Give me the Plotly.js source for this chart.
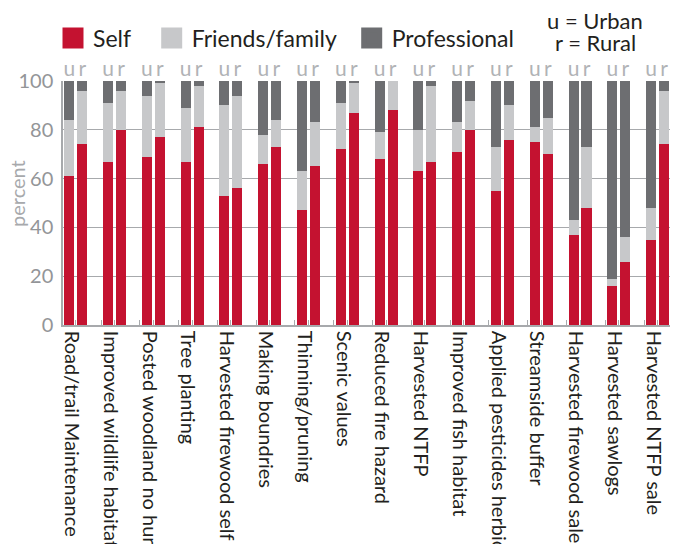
<!DOCTYPE html>
<html>
<head>
<meta charset="utf-8">
<script src="https://cdn.plot.ly/plotly-3.0.1.min.js"></script>
<style>
html,body{margin:0;padding:0;background:#ffffff;}
#chart{width:678px;height:544px;}
</style>
</head>
<body>
<div id="chart"></div>
<script>
// ---- data (percent) ----
const categories = [
  'Road/trail Maintenance', 'Improved wildlife habitat', 'Posted woodland no hunting',
  'Tree planting', 'Harvested firewood self', 'Making boundries', 'Thinning/pruning',
  'Scenic values', 'Reduced fire hazard', 'Harvested NTFP', 'Improved fish habitat',
  'Applied pesticides herbicides', 'Streamside buffer', 'Harvested firewood sale',
  'Harvested sawlogs', 'Harvested NTFP sale'
];
const seriesNames = ['Self', 'Friends/family', 'Professional'];
const groupLabels = ['u', 'r'];

const urbanSelf    = [61, 67, 69, 67, 53, 66, 47, 72, 68, 63, 71, 55, 75, 37, 16, 35];
const urbanFriends = [23, 24, 25, 22, 37, 12, 16, 19, 11, 17, 12, 18,  6,  6,  3, 13];
const urbanPro     = [16,  9,  6, 11, 10, 22, 37,  9, 21, 20, 17, 27, 19, 57, 81, 52];

const ruralSelf    = [74, 80, 77, 81, 56, 73, 65, 87, 88, 67, 80, 76, 70, 48, 26, 74];
const ruralFriends = [22, 16, 22, 17, 38, 11, 18, 12, 12, 31, 12, 14, 15, 25, 10, 22];
const ruralPro     = [ 4,  4,  1,  2,  6, 16, 17,  1,  0,  2,  8, 10, 15, 27, 64,  4];

const yTicks = [0, 20, 40, 60, 80, 100];

// ---- styling ----
const FONT = 'Lato, "Open Sans", sans-serif';
const colors = ['#C41230', '#C7C8CA', '#6D6E71'];
const axisGray = '#A7A9AC';

// position of each bar within a group (in category units)
const OFFSET = 0.167, BARW = 0.258;
const idx = categories.map((c, i) => i);
const xU = idx.map(i => i - OFFSET);
const xR = idx.map(i => i + OFFSET);
const xAll = xU.concat(xR);
const xRange = [-0.33, 15.32];

const urban = [urbanSelf, urbanFriends, urbanPro];
const rural = [ruralSelf, ruralFriends, ruralPro];

const traces = seriesNames.map((name, k) => ({
  type: 'bar',
  name: name,
  x: xAll,
  y: urban[k].concat(rural[k]),
  width: BARW,
  marker: {color: colors[k], line: {width: 0}},
  showlegend: false,
  hovertemplate: name + ': %{y}%<extra></extra>'
}));

const legendKeys = ['legend', 'legend2', 'legend3'];
seriesNames.forEach((name, k) => {
  traces.push({
    type: 'scatter', mode: 'markers', name: name,
    x: [null], y: [null], xaxis: 'x2',
    legend: legendKeys[k], showlegend: true, hoverinfo: 'skip',
    marker: {symbol: 'square', size: 16, color: colors[k], line: {width: 5, color: colors[k]}}
  });
});

function leg(xpx) {
  return {
    x: xpx / 678, xref: 'container', xanchor: 'left',
    y: 1 - 38 / 544, yref: 'container', yanchor: 'middle',
    orientation: 'h', bgcolor: 'rgba(0,0,0,0)', borderwidth: 0,
    font: {family: FONT, size: 23, color: '#231F20'},
    itemclick: false, itemdoubleclick: false
  };
}

const layout = {
  width: 678, height: 544,
  margin: {l: 63, r: 8, t: 81, b: 219, pad: 0},
  paper_bgcolor: '#ffffff', plot_bgcolor: '#ffffff',
  barmode: 'stack',
  font: {family: FONT, color: '#231F20'},
  showlegend: true,
  legend: leg(53), legend2: leg(151.7), legend3: leg(351.7),
  xaxis: {
    range: xRange, automargin: false, fixedrange: true,
    tickmode: 'array', tickvals: idx.map(i => i - 0.11), ticktext: categories,
    tickangle: 90, ticks: '', showgrid: false, zeroline: false,
    showline: true, linecolor: axisGray, linewidth: 1.5,
    tickfont: {family: FONT, size: 20, color: '#231F20'},
    minor: {tickmode: 'array', tickvals: idx.concat(idx.map(i => i + 0.65)),
            ticks: 'inside', ticklen: 5, tickwidth: 1.2, tickcolor: axisGray, showgrid: false}
  },
  xaxis2: {
    overlaying: 'x', side: 'top', anchor: 'y',
    range: xRange, automargin: false, fixedrange: true,
    tickmode: 'array', tickvals: xAll,
    ticktext: idx.map(() => groupLabels[0]).concat(idx.map(() => groupLabels[1])),
    ticks: '', showgrid: false, showline: false, zeroline: false,
    tickfont: {family: FONT, size: 21, color: '#B1B3B6'}
  },
  yaxis: {
    range: [0, 100], automargin: false, fixedrange: true,
    tickmode: 'array', tickvals: yTicks,
    showgrid: true, gridcolor: axisGray, gridwidth: 1.2, zeroline: false,
    showline: true, linecolor: axisGray, linewidth: 1.5, ticks: '',
    tickfont: {family: FONT, size: 20, color: '#939598'},
    ticklabelstandoff: 4
  },
  annotations: [
    {text: 'percent', xref: 'paper', yref: 'paper', x: (17 - 63) / 607, y: (325 - 194) / 244,
     xanchor: 'center', yanchor: 'middle', textangle: -90, showarrow: false,
     font: {family: FONT, size: 20, color: '#A7A9AC'}},
    {text: 'u = Urban', xref: 'paper', yref: 'paper', x: 0.8765, y: 1 + (81 - 20) / 244,
     xanchor: 'center', yanchor: 'middle', showarrow: false,
     font: {family: FONT, size: 22, color: '#231F20'}},
    {text: 'r = Rural', xref: 'paper', yref: 'paper', x: 0.8765, y: 1 + (81 - 43) / 244,
     xanchor: 'center', yanchor: 'middle', showarrow: false,
     font: {family: FONT, size: 22, color: '#231F20'}}
  ]
};

Plotly.newPlot('chart', traces, layout, {displayModeBar: false, staticPlot: false, responsive: false});
</script>
</body>
</html>
